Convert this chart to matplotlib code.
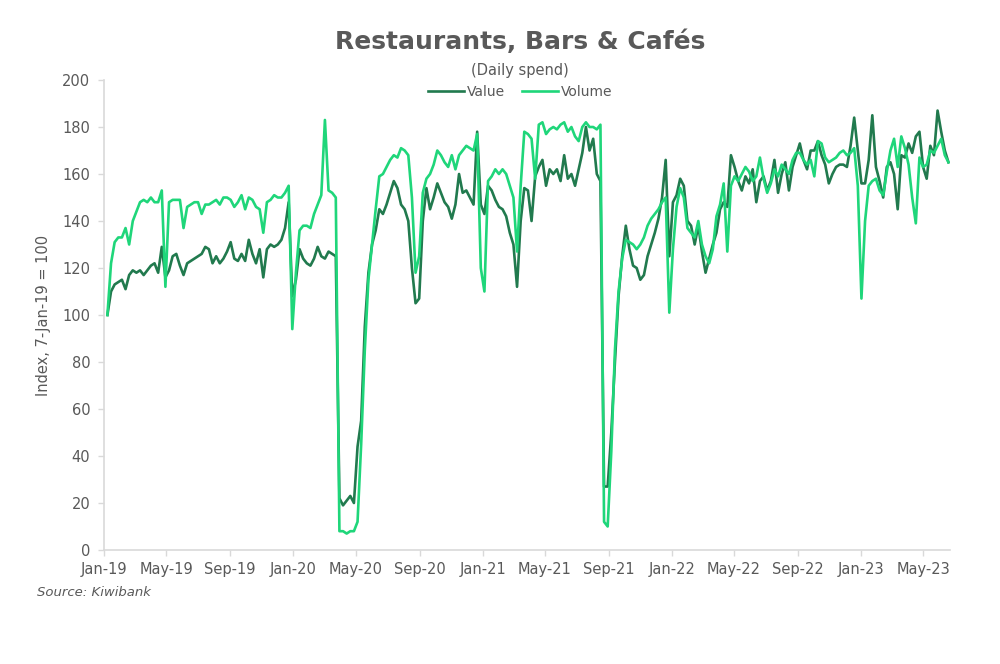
import matplotlib
matplotlib.use("Agg")
import matplotlib.pyplot as plt
import pandas as pd

# ---------------- data (weekly readings, index 7-Jan-19 = 100) ----------------
start_date = "2019-01-07"

value = [
    100, 110, 113, 114, 115, 111, 117, 119, 118, 119, 117, 119, 121, 122, 118, 129, 116, 119, 125, 126, 121,
    117, 122, 123, 124, 125, 126, 129, 128, 122, 125, 122, 124, 127, 131, 124, 123, 126, 123, 132, 126, 122,
    128, 116, 128, 130, 129, 130, 132, 137, 148,
    108,
    115, 128, 124, 122, 121, 124, 129, 125, 124, 127, 126, 125,
    22, 19, 21, 23, 20, 44, 55, 95, 118, 130, 136, 145,
    143, 147, 152, 157, 154, 147, 145, 140, 120, 105, 107, 140, 154, 145, 150, 156, 152, 148, 146, 141, 147,
    160, 152, 153, 150, 147, 178,
    147, 143, 155, 153, 149, 146, 145, 142, 135, 130, 112, 140, 154, 153, 140, 159, 163, 166, 155, 162, 160,
    162, 157, 168, 158, 160, 155, 162, 169, 180, 170, 175, 160, 157,
    27, 27, 50, 80, 108, 125, 138, 128, 121, 120, 115, 117, 125, 130, 135, 141,
    150, 166, 125, 148, 151, 158, 155, 140, 138, 130, 138, 127, 118, 124, 130, 135, 145, 148, 146, 168,
    163, 157, 153, 159, 156, 162, 148, 157, 159, 153, 157, 166, 152, 160, 165, 153, 163, 168, 173, 166,
    162, 170, 170, 174, 168, 164, 156,
    160, 163, 164, 164, 163, 172, 184, 170, 156, 156, 166, 185, 163, 157, 150, 163, 165, 160, 145, 168,
    167, 173, 169, 176, 178, 163, 158, 172, 168, 187, 178, 170, 165,
]

volume = [
    100, 122, 131, 133, 133, 137, 130, 140, 144, 148, 149, 148, 150, 148, 148, 153, 112, 148, 149, 149, 149,
    137, 146, 147, 148, 148, 143, 147, 147, 148, 149, 147, 150, 150, 149, 146, 148, 151, 145, 150, 149, 146,
    145, 135, 148, 149, 151, 150, 150, 152, 155,
    94,
    118, 136, 138, 138, 137, 143, 147, 151, 183, 153, 152, 150,
    8, 8, 7, 8, 8, 12, 45, 85, 115, 130, 145, 159,
    160, 163, 166, 168, 167, 171, 170, 168, 150, 118, 125, 152, 158, 160, 164, 170, 168, 165, 163, 168, 162,
    168, 170, 172, 171, 170, 177,
    120, 110, 157, 159, 162, 160, 162, 160, 155, 150, 127, 155, 178, 177, 175, 158, 181, 182, 177, 179, 180,
    179, 181, 182, 178, 180, 176, 174, 180, 182, 180, 180, 179, 181,
    12, 10, 42, 85, 110, 124, 132, 131, 130, 128, 130, 133, 138, 141, 143, 145,
    148, 150, 101, 128, 146, 154, 150, 137, 135, 133, 140, 130, 125, 122, 128, 142, 147, 156, 127, 155,
    159, 157, 160, 163, 161, 157, 159, 167, 158, 152, 156, 162, 159, 164, 162, 160, 166, 169, 169, 166,
    164, 166, 159, 174, 173, 167, 165,
    166, 167, 169, 170, 168, 169, 171, 155, 107, 140, 155, 157, 158, 153, 151, 161, 170, 175, 163, 176,
    171, 164, 150, 139, 167, 163, 164, 170, 169, 172, 175, 168, 165,
]

series_names = ["Value", "Volume"]
y_ticks = [0, 20, 40, 60, 80, 100, 120, 140, 160, 180, 200]
x_tick_labels = ["Jan-19", "May-19", "Sep-19", "Jan-20", "May-20", "Sep-20", "Jan-21",
                 "May-21", "Sep-21", "Jan-22", "May-22", "Sep-22", "Jan-23", "May-23"]

# ---------------- drawing ----------------
TXT = "#595959"
AX = "#D9D9D9"
C_VALUE = "#217A4E"
C_VOLUME = "#1FD67A"

plt.rcParams["font.family"] = ["DejaVu Sans"]

dates = pd.date_range(start_date, periods=len(value), freq="7D")

fig = plt.figure(figsize=(10, 6.64), dpi=100)
ax = fig.add_axes([0.1043, 0.1717, 0.8457, 0.7078])

ax.plot(dates, value, color=C_VALUE, lw=1.9, label=series_names[0], solid_joinstyle="round")
ax.plot(dates, volume, color=C_VOLUME, lw=1.9, label=series_names[1], solid_joinstyle="round")

ax.set_ylim(0, 200)
ax.set_yticks(y_ticks)
ax.set_xlim(pd.Timestamp("2019-01-01"), pd.Timestamp("2023-06-22"))
tick_dates = pd.date_range("2019-01-01", periods=len(x_tick_labels), freq="4MS")
ax.set_xticks(tick_dates)
ax.set_xticklabels(x_tick_labels)

for s in ["top", "right"]:
    ax.spines[s].set_visible(False)
for s in ["left", "bottom"]:
    ax.spines[s].set_color(AX)
    ax.spines[s].set_linewidth(1.2)
ax.tick_params(axis="both", colors=AX, labelcolor=TXT, labelsize=10.5, length=4, width=1)
ax.tick_params(axis="y", pad=6)
ax.tick_params(axis="x", pad=5)

ax.set_ylabel("Index, 7-Jan-19 = 100", color=TXT, fontsize=10.5, labelpad=8)

fig.text(0.52, 1 - 42 / 664, "Restaurants, Bars & Cafés", ha="center", va="center",
         fontsize=18, fontweight="bold", color=TXT)
fig.text(0.52, 1 - 70 / 664, "(Daily spend)", ha="center", va="center",
         fontsize=10.5, color=TXT)
fig.legend(loc="center", bbox_to_anchor=(0.52, 1 - 92 / 664), ncol=2, frameon=False,
           fontsize=10, labelcolor=TXT, handlelength=2.6, handletextpad=0.2, columnspacing=1.2)

fig.text(0.037, 1 - 592 / 664, "Source: Kiwibank", ha="left", va="center",
         fontsize=9.5, style="italic", color=TXT)

fig.savefig("out.png", dpi=100)
